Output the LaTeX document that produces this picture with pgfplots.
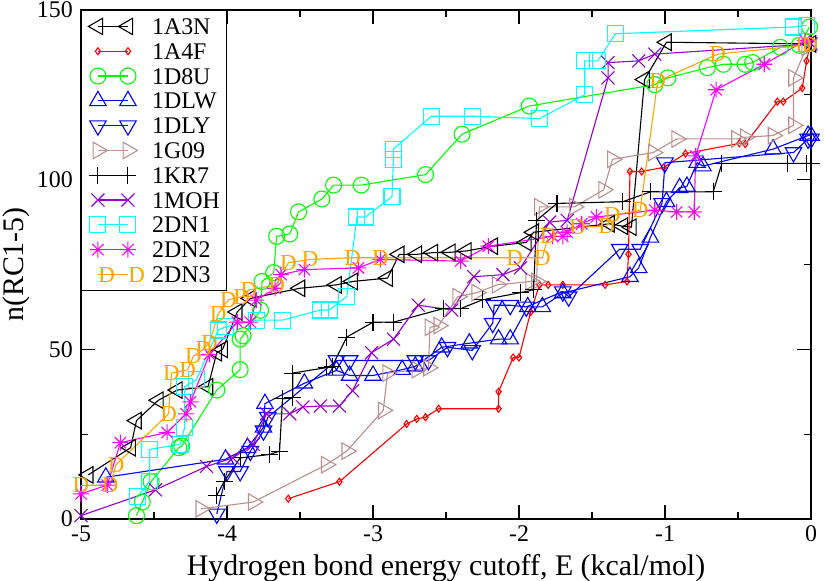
\documentclass[border=0pt]{standalone}
\usepackage{pgfplots}
\pgfplotsset{compat=1.18}
\usepackage{fontspec}
\setmainfont{Liberation Serif}
\usetikzlibrary{calc}
\definecolor{gbrown}{RGB}{188,143,143}
\definecolor{gviolet}{RGB}{148,0,211}
\definecolor{gorange}{RGB}{255,165,0}
\definecolor{ggreen}{RGB}{0,255,0}
\definecolor{gcyan}{RGB}{0,255,255}
\definecolor{gmagenta}{RGB}{255,0,255}

% grace style star: plus and cross together
\pgfdeclareplotmark{gstar}{%
  \pgfpathmoveto{\pgfqpoint{0pt}{\pgfplotmarksize}}%
  \pgfpathlineto{\pgfqpoint{0pt}{-\pgfplotmarksize}}%
  \pgfpathmoveto{\pgfqpoint{\pgfplotmarksize}{0pt}}%
  \pgfpathlineto{\pgfqpoint{-\pgfplotmarksize}{0pt}}%
  \pgfpathmoveto{\pgfqpoint{.7071\pgfplotmarksize}{.7071\pgfplotmarksize}}%
  \pgfpathlineto{\pgfqpoint{-.7071\pgfplotmarksize}{-.7071\pgfplotmarksize}}%
  \pgfpathmoveto{\pgfqpoint{-.7071\pgfplotmarksize}{.7071\pgfplotmarksize}}%
  \pgfpathlineto{\pgfqpoint{.7071\pgfplotmarksize}{-.7071\pgfplotmarksize}}%
  \pgfusepathqstroke}

\pgfplotsset{gr/.style={line width=1.1bp, mark options={solid, line width=1.1bp}}}

\begin{document}
\begin{tikzpicture}
\begin{axis}[name=ax,
  scale only axis, width=730bp, height=509bp,
  xmin=-5, xmax=0, ymin=0, ymax=150,
  xtick={-5,-4,-3,-2,-1,0}, ytick={0,50,100,150},
  minor x tick num=1, minor y tick num=1,
  tick align=inside, major tick length=14bp, minor tick length=7bp,
  axis line style={line width=1.8bp},
  every tick/.style={black, line width=1.3bp},
  /pgf/number format/assume math mode=true,
  ticklabel style={font=\fontsize{24}{24}\selectfont},
  xticklabel style={anchor=base, yshift=-22bp},
  yticklabel style={anchor=east, inner sep=0pt, xshift=-8bp},
  xlabel={Hydrogen bond energy cutoff, E (kcal/mol)},
  ylabel={n(RC1-5)},
  label style={font=\fontsize{30}{30}\selectfont},
  xlabel style={at={(axis description cs:0.5,0)}, anchor=base, yshift=-56bp},
  ylabel style={at={(axis description cs:-0.089,0.5)}, anchor=center},
  clip=false,
  legend style={at={(0,1)}, anchor=north west, draw=black, line width=0.9bp,
    fill=white, font=\fontsize{24}{24}\selectfont,
    inner xsep=7bp, inner ysep=3.6bp, row sep=0pt, column sep=7bp,
    nodes={inner sep=0bp, text height=20.4bp, text depth=4.4bp}},
  legend cell align=left,
  legend image code/.code={\draw plot coordinates {(0bp,0bp) (30bp,0bp)};},
]
% 1A3N
\addplot[gr, color=black, mark=triangle, mark size=9.5bp, mark options={rotate=90}] coordinates {
(-4.95,13) (-4.66,21) (-4.62,29) (-4.47,35) (-4.34,38) (-4.13,39) (-4.07,49) (-4.03,50)
(-3.93,61) (-3.84,65) (-3.50,68) (-3.25,69) (-3.14,70) (-2.90,71) (-2.82,78) (-2.70,78)
(-2.59,78.5) (-2.47,78.6) (-2.36,79) (-2.18,80.4) (-1.95,81.5) (-1.90,84.5) (-1.38,87)
(-1.29,86.3) (-1.23,86) (-1.14,129.5) (-0.99,140.5) (0,140)};
\addlegendentry{1A3N}
% 1A4F
\addplot[gr, color=red, mark=diamond, mark size=3.5bp] coordinates {
(-3.58,6) (-3.23,11) (-2.77,28) (-2.70,29.5) (-2.64,30) (-2.55,32.5) (-2.14,32.5) (-2.14,37.5)
(-2.04,47.6) (-2.00,47.6) (-1.92,61) (-1.86,69) (-1.80,69) (-1.70,69) (-1.41,69) (-1.26,70)
(-1.25,78) (-1.24,102.4) (-1.16,102.4) (-1.01,103.6) (-0.86,107.7) (-0.49,110.7) (-0.45,110.5)
(-0.23,123) (-0.19,123) (-0.06,127) (-0.03,135) (0,141)};
\addlegendentry{1A4F}
% 1D8U
\addplot[gr, color=ggreen, mark=o, mark size=8bp] coordinates {
(-4.62,1) (-4.58,5) (-4.52,11) (-4.33,21) (-4.31,21.5) (-4.07,38) (-3.91,44) (-3.91,53)
(-3.89,54) (-3.77,61.5) (-3.76,70) (-3.68,72.6) (-3.66,83.3) (-3.57,84) (-3.51,90.5)
(-3.35,94.3) (-3.27,98.4) (-3.08,98.4) (-2.64,101.5) (-2.39,113.4) (-1.93,121.7) (-1.07,128)
(-0.98,130) (-0.71,133) (-0.60,134) (-0.45,134) (-0.40,134.5) (-0.21,139) (-0.08,139.6) (-0.01,145)};
\addlegendentry{1D8U}
% 1DLW
\addplot[gr, color=blue, mark=triangle, mark size=9.5bp] coordinates {
(-4.83,12.3) (-4.01,17.6) (-3.86,21) (-3.75,27) (-3.74,34) (-3.47,40) (-3.25,43.8) (-3.16,42.3)
(-3.00,42.3) (-2.80,44) (-2.71,45) (-2.53,50.6) (-2.34,51.8) (-2.14,53) (-2.06,53) (-1.94,62.5)
(-1.84,62.5) (-1.70,66.6) (-1.24,71.4) (-1.18,74) (-1.10,83) (-0.99,93.5) (-0.90,97.6)
(-0.85,98) (-0.78,105) (-0.74,104) (-0.26,109) (-0.02,113) (0,113)};
\addlegendentry{1DLW}
% 1DLY
\addplot[gr, color=blue, mark=triangle, mark size=9.5bp, mark options={rotate=180}] coordinates {
(-4.07,1.5) (-4.00,14) (-3.91,14) (-3.84,20) (-3.75,26) (-3.72,30) (-3.25,46.7) (-3.16,46.7)
(-2.71,46.7) (-2.62,46.7) (-2.49,50.6) (-2.32,49.7) (-2.18,57.7) (-2.17,63) (-2.06,63)
(-1.95,62.5) (-1.70,67) (-1.66,65.5) (-1.31,79.5) (-1.17,79.5) (-1.02,93) (-1.00,105)
(-0.12,108) (-0.02,112) (0,112)};
\addlegendentry{1DLY}
% 1G09
\addplot[gr, color=gbrown, mark=triangle, mark size=9.5bp, mark options={rotate=-90}] coordinates {
(-4.18,3) (-3.82,5) (-3.32,16) (-3.18,20) (-2.93,32) (-2.90,43) (-2.70,44) (-2.62,44.6)
(-2.61,56.5) (-2.55,57) (-2.42,65.5) (-2.29,66.7) (-2.15,69) (-1.92,70) (-1.88,70) (-1.86,92)
(-1.62,92) (-1.42,97) (-1.36,106) (-1.08,108) (-0.92,112) (-0.51,112) (-0.45,112.5)
(-0.26,113) (-0.12,116) (-0.12,130) (-0.03,139)};
\addlegendentry{1G09}
% 1KR7
\addplot[gr, color=black, mark=+, mark size=8.5bp] coordinates {
(-4.07,7) (-4.02,11) (-3.91,18) (-3.71,19) (-3.64,20) (-3.62,35.4) (-3.55,35.7) (-3.55,43)
(-3.32,44.6) (-3.28,45) (-3.18,53.6) (-3.00,58) (-2.86,58) (-2.52,62) (-2.40,62) (-2.25,64.6)
(-1.99,66.7) (-1.90,67.5) (-1.88,88) (-1.74,93) (-1.29,93.5) (-1.10,96.4) (-0.67,96.4)
(-0.61,104.8) (-0.16,104.8) (-0.03,104.8) (0,104.8)};
\addlegendentry{1KR7}
% 1MOH
\addplot[gr, color=gviolet, mark=x, mark size=9.2bp] coordinates {
(-5,1) (-4.49,8.6) (-4.14,15.5) (-3.96,18) (-3.82,22) (-3.73,31) (-3.57,31) (-3.48,33)
(-3.36,33.3) (-3.23,33.3) (-3.14,37.8) (-3.01,49) (-2.86,53) (-2.69,63) (-2.46,61.6)
(-2.31,71.4) (-2.11,72) (-1.99,74) (-1.79,87.5) (-1.67,88) (-1.39,130) (-1.39,134.5)
(-1.18,135) (-1.07,137) (0,140)};
\addlegendentry{1MOH}
% 2DN1
\addplot[gr, color=gcyan, mark=square, mark size=8bp] coordinates {
(-4.61,6.6) (-4.53,11) (-4.53,20.5) (-4.32,22) (-4.29,27) (-4.29,39) (-4.21,41) (-4.06,55.7)
(-4.01,56.6) (-3.80,58.6) (-3.62,58.6) (-3.36,61.6) (-3.30,61.6) (-3.18,65.5) (-3.11,89)
(-3.05,89) (-2.87,95) (-2.86,106) (-2.86,109) (-2.60,118.7) (-2.32,118.7) (-1.86,118)
(-1.55,125) (-1.55,135) (-1.46,135) (-1.34,143) (-0.12,145) (-0.03,145.5)};
\addlegendentry{2DN1}
% 2DN2
\addplot[gr, color=gmagenta, mark=gstar, mark size=8bp] coordinates {
(-5,7.4) (-4.82,10) (-4.73,22.5) (-4.41,25.5) (-4.28,31) (-4.25,34.5) (-4.12,48.5) (-3.93,58)
(-3.84,58) (-3.80,64.5) (-3.67,68) (-3.63,72) (-3.47,73.5) (-3.10,74) (-2.95,76.5) (-2.40,76)
(-2.21,80.4) (-1.77,83.3) (-1.70,83.3) (-1.67,84.5) (-1.57,87) (-1.47,89) (-1.07,91)
(-0.92,90.5) (-0.80,90.5) (-0.79,107) (-0.65,126.5) (-0.32,134) (-0.04,141)};
\addlegendentry{2DN2}
% 2DN3
\addplot[gr, color=gorange, mark=text, text mark={D}, text mark as node=true,
  text mark style={font=\fontsize{23}{23}\selectfont, inner sep=0pt}] coordinates {
(-5,9.9) (-4.80,10) (-4.76,16) (-4.40,31) (-4.38,43) (-4.27,44) (-4.23,48) (-4.16,50)
(-4.12,52) (-4.06,60.5) (-3.99,64.6) (-3.90,65.5) (-3.85,67.5) (-3.66,69) (-3.58,75.5)
(-3.43,76.5) (-3.14,77) (-2.95,77) (-2.03,77) (-1.84,77) (-1.80,83.3) (-1.60,86) (-1.40,86.2)
(-1.36,89.5) (-1.17,91) (-1.05,129) (-0.64,137) (-0.05,139.6) (-0.01,139.6)};
\addlegendentry{2DN3}
\end{axis}
\pgfresetboundingbox
\path[use as bounding box] ($(ax.south west)+(-81bp,-62bp)$) rectangle ($(ax.north east)+(13bp,10bp)$);
\end{tikzpicture}
\end{document}
